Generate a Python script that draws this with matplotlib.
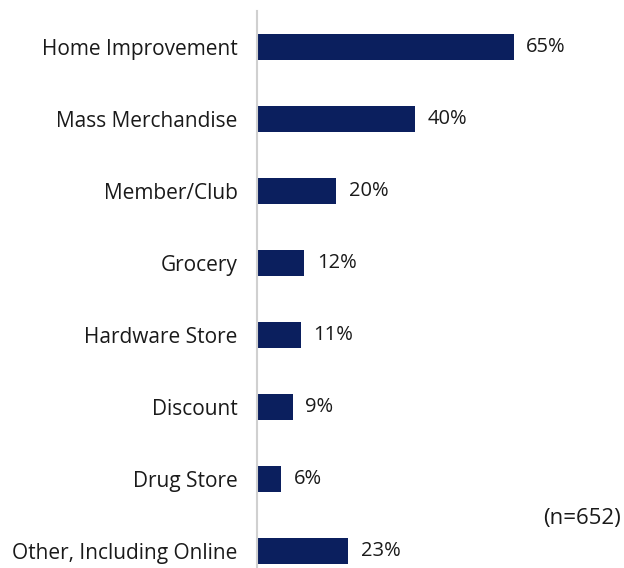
import matplotlib.pyplot as plt

# Share of respondents by store type
stores = ["Home Improvement", "Mass Merchandise", "Member/Club", "Grocery",
          "Hardware Store", "Discount", "Drug Store", "Other, Including Online"]
shares = [65, 40, 20, 12, 11, 9, 6, 23]
sample_note = "(n=652)"

plt.rcParams['font.family'] = ['Open Sans', 'DejaVu Sans']

fig = plt.figure(figsize=(6.24, 5.68), dpi=100)
ax = fig.add_axes([0.412, 0.0, 0.582, 0.9806])

y = range(len(stores))
ax.barh(y, shares, height=0.35, color="#0b1f5e")
for yi, v in zip(y, shares):
    ax.text(v + 3.2, yi, f"{v}%", va="center", ha="left", fontsize=14.5, color="#1a1a1a")

ax.set_yticks(list(y))
ax.set_yticklabels(stores, fontsize=15, color="#1a1a1a")
ax.tick_params(axis="y", length=0, pad=14)
ax.set_xticks([])
ax.set_xlim(0, 92)
ax.set_ylim(7.236, -0.5)

for side in ["top", "right", "bottom"]:
    ax.spines[side].set_visible(False)
ax.spines["left"].set_color("#d0d0d0")
ax.spines["left"].set_linewidth(1.5)

fig.text(0.995, 0.088, sample_note, ha="right", va="center", fontsize=16, color="#1a1a1a")

fig.savefig("out.png", dpi=100)
